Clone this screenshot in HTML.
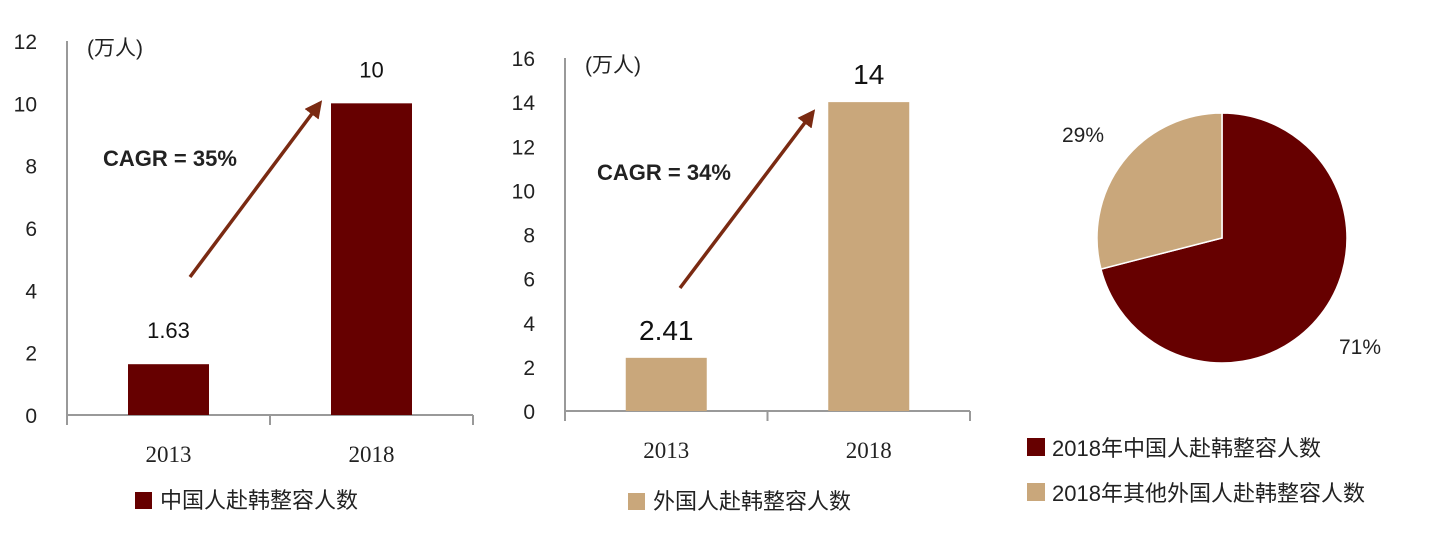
<!DOCTYPE html>
<html><head><meta charset="utf-8"><style>
body{margin:0;background:#fff;}
svg{display:block;font-family:"Liberation Sans","Noto Sans CJK SC",sans-serif;}
</style></head><body>
<svg id="c" width="1438" height="540" viewBox="0 0 1438 540">
<defs><marker id="ah" viewBox="0 0 10 10" refX="8" refY="5" markerWidth="5" markerHeight="5" orient="auto"><path d="M0,0L10,5L0,10z" fill="#7a2a12"/></marker></defs>
</svg>
<script>
const categories=["2013","2018"];
const chinaValues=[1.63,10];
const foreignValues=[2.41,14];
const chinaLabels=["1.63","10"];
const foreignLabels=["2.41","14"];
const ticks1=[0,2,4,6,8,10,12];
const ticks2=[0,2,4,6,8,10,12,14,16];
const pieLabels=["2018年中国人赴韩整容人数","2018年其他外国人赴韩整容人数"];
const pieValues=[71,29];
const DARK="#660000",TAN="#c9a77b";
const svg=document.getElementById('c');
const NS="http://www.w3.org/2000/svg";
function mk(t,a,txt){const e=document.createElementNS(NS,t);for(const k in a)e.setAttribute(k,a[k]);if(txt!==undefined)e.textContent=txt;svg.appendChild(e);return e;}
function bar(cfg){
  const y=v=>cfg.y0-(v-0)/cfg.max*(cfg.y0-cfg.yTop);
  const band=(cfg.xEnd-cfg.x0)/categories.length;
  const ax=mk('line',{x1:cfg.x0,y1:cfg.yTop,x2:cfg.x0,y2:cfg.y0,stroke:'#999','stroke-width':2});
  
  
  const xa=mk('line',{x1:cfg.x0,y1:cfg.y0,x2:cfg.xEnd,y2:cfg.y0,stroke:'#999','stroke-width':2});
  
  
  for(let i=0;i<=categories.length;i++){const tk=mk('line',{x1:cfg.x0+band*i,y1:cfg.y0,x2:cfg.x0+band*i,y2:cfg.y0+10,stroke:'#999','stroke-width':2});
    
    }
  cfg.ticks.forEach(t=>{const e=mk('text',{x:cfg.x0-30,y:y(t)+8,'text-anchor':'end','font-size':21,fill:'#222'},t);
    
    });
  categories.forEach((c,i)=>{
    const cx=cfg.x0+band*(i+0.5),v=cfg.vals[i];
    const r=mk('rect',{x:cx-40.5,y:y(v),width:81,height:cfg.y0-y(v),fill:cfg.color});
    
    
    const l=mk('text',{x:cx,y:y(v)-cfg.lblOff,'text-anchor':'middle','font-size':cfg.lblSize,fill:'#111'},cfg.labels[i]);
    
    
    const xl=mk('text',{x:cx,y:cfg.y0+47,'text-anchor':'middle','font-size':23,fill:'#222','font-family':'Liberation Serif,serif'},c);
    
    
  });
  const u=mk('text',{x:cfg.x0+20,y:cfg.yTop+14,'font-size':21,fill:'#222'},'(万人)');
  
  
  const ar=mk('line',{x1:cfg.arrow[0],y1:cfg.arrow[1],x2:cfg.arrow[2],y2:cfg.arrow[3],stroke:'#7a2a12','stroke-width':3.5,'marker-end':'url(#ah)'});
  
  
  const cg=mk('text',{x:cfg.cagr[0],y:cfg.cagr[1],'font-size':22,'font-weight':'bold',fill:'#222'},cfg.cagr[2]);
  
  
  const ls=mk('rect',{x:cfg.leg[0],y:cfg.leg[1],width:17,height:17,fill:cfg.color});
  
  
  const lt=mk('text',{x:cfg.leg[0]+25,y:cfg.leg[1]+16,'font-size':22,fill:'#222'},cfg.leg[2]);
  
  
}
bar({p:'china',x0:67,xEnd:473,y0:415,yTop:41,max:12,ticks:ticks1,vals:chinaValues,labels:chinaLabels,color:DARK,lblSize:22,lblOff:26,arrow:[190,277,320,103],cagr:[103,166,'CAGR = 35%'],leg:[135,492,'中国人赴韩整容人数']});
bar({p:'foreign',x0:565,xEnd:970,y0:411,yTop:58,max:16,ticks:ticks2,vals:foreignValues,labels:foreignLabels,color:TAN,lblSize:28,lblOff:18,arrow:[680,288,813,112],cagr:[597,180,'CAGR = 34%'],leg:[628,493,'外国人赴韩整容人数']});
// pie
const cx=1222,cy=238,R=125;
const tot=pieValues.reduce((a,b)=>a+b,0);
let a0=0;const cols=[DARK,TAN];
pieValues.forEach((v,i)=>{
  const a1=a0+v/tot*2*Math.PI;
  const x0=cx+R*Math.sin(a0),y0=cy-R*Math.cos(a0),x1=cx+R*Math.sin(a1),y1=cy-R*Math.cos(a1);
  const p=mk('path',{d:`M${cx},${cy}L${x0},${y0}A${R},${R} 0 ${a1-a0>Math.PI?1:0} 1 ${x1},${y1}Z`,fill:cols[i],stroke:'#fff','stroke-width':1.5});
  
  
  a0=a1;
});
const pl1=mk('text',{x:1360,y:354,'font-size':21,'text-anchor':'middle',fill:'#222'},pieValues[0]+'%');


const pl2=mk('text',{x:1083,y:142,'font-size':21,'text-anchor':'middle',fill:'#222'},pieValues[1]+'%');


pieLabels.forEach((l,i)=>{
  const s=mk('rect',{x:1027,y:438+i*45,width:18,height:18,fill:cols[i]});
  
  
  const t=mk('text',{x:1052,y:456+i*45,'font-size':22,fill:'#222'},l);
  
  
});
</script>
</body></html>
